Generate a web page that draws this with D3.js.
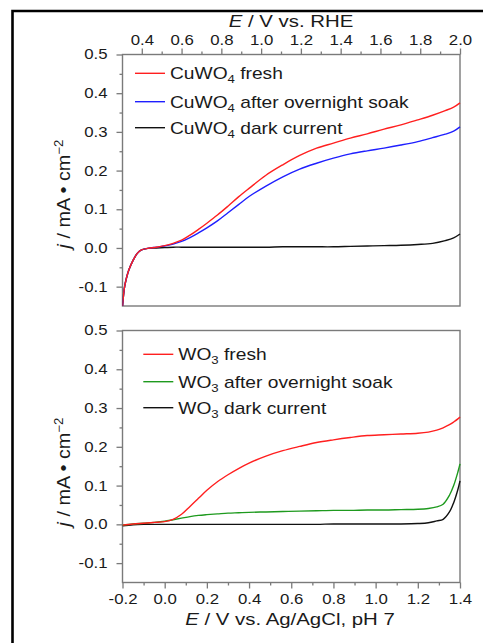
<!DOCTYPE html>
<html>
<head>
<meta charset="utf-8">
<script src="https://cdn.jsdelivr.net/npm/d3@7"></script>
<style>
  html, body { margin: 0; padding: 0; background: #fff; }
  svg { display: block; font-family: "Liberation Sans", Arial, sans-serif; }
</style>
</head>
<body>
<svg id="chart" width="483" height="643"></svg>
<script>
// Potential grids (V vs. Ag/AgCl, pH 7)
const potentialCu = [-0.2, -0.19, -0.18, -0.17, -0.15, -0.13, -0.11, -0.08, -0.04, 0.0, 0.04, 0.08, 0.12, 0.16, 0.2, 0.25, 0.3, 0.35, 0.4, 0.48, 0.56, 0.64, 0.72, 0.8, 0.88, 0.96, 1.04, 1.12, 1.2, 1.27, 1.33, 1.37, 1.4];
// Current densities (mA cm^-2), CuWO4 electrode
const cuFresh = [-0.15, -0.10, -0.075, -0.057, -0.032, -0.014, -0.005, -0.001, 0.002, 0.006, 0.012, 0.020, 0.033, 0.048, 0.064, 0.085, 0.108, 0.132, 0.154, 0.188, 0.215, 0.239, 0.258, 0.271, 0.284, 0.295, 0.307, 0.318, 0.331, 0.343, 0.355, 0.364, 0.375];
const cuSoak  = [-0.15, -0.10, -0.075, -0.057, -0.032, -0.014, -0.005, -0.001, 0.002, 0.005, 0.010, 0.017, 0.027, 0.039, 0.052, 0.070, 0.091, 0.112, 0.133, 0.160, 0.184, 0.204, 0.219, 0.232, 0.243, 0.251, 0.258, 0.266, 0.275, 0.285, 0.294, 0.302, 0.313];
const cuDark  = [-0.15, -0.10, -0.075, -0.057, -0.032, -0.014, -0.005, -0.001, 0.000, 0.001, 0.002, 0.002, 0.002, 0.002, 0.002, 0.002, 0.002, 0.002, 0.002, 0.002, 0.003, 0.003, 0.003, 0.003, 0.004, 0.005, 0.006, 0.007, 0.009, 0.012, 0.019, 0.026, 0.036];

const potentialW = [-0.2, -0.15, -0.1, -0.05, 0.0, 0.04, 0.08, 0.12, 0.16, 0.2, 0.25, 0.3, 0.35, 0.4, 0.48, 0.56, 0.64, 0.72, 0.8, 0.88, 0.96, 1.04, 1.12, 1.2, 1.25, 1.29, 1.32, 1.35, 1.37, 1.39, 1.4];
// Current densities (mA cm^-2), WO3 electrode
const wFresh = [-0.002, 0.001, 0.003, 0.005, 0.007, 0.013, 0.026, 0.046, 0.067, 0.088, 0.110, 0.128, 0.144, 0.158, 0.176, 0.190, 0.201, 0.211, 0.218, 0.224, 0.229, 0.231, 0.233, 0.235, 0.238, 0.243, 0.249, 0.257, 0.264, 0.272, 0.277];
const wSoak  = [-0.002, 0.001, 0.003, 0.005, 0.008, 0.012, 0.016, 0.020, 0.023, 0.025, 0.027, 0.029, 0.030, 0.031, 0.032, 0.033, 0.034, 0.035, 0.036, 0.036, 0.037, 0.037, 0.038, 0.039, 0.041, 0.045, 0.052, 0.075, 0.100, 0.135, 0.156];
const wDark  = [-0.004, -0.001, 0.000, 0.000, 0.000, 0.000, 0.000, 0.000, 0.000, 0.000, 0.000, 0.000, 0.000, 0.000, 0.000, 0.000, 0.000, 0.000, 0.001, 0.001, 0.001, 0.001, 0.001, 0.002, 0.004, 0.009, 0.013, 0.032, 0.056, 0.090, 0.112];

// Axis ticks
const xTicks = [-0.2, 0.0, 0.2, 0.4, 0.6, 0.8, 1.0, 1.2, 1.4];
const xMinor = [-0.1, 0.1, 0.3, 0.5, 0.7, 0.9, 1.1, 1.3];
const rheTicks = [0.4, 0.6, 0.8, 1.0, 1.2, 1.4, 1.6, 1.8, 2.0];
const rheMinor = [0.5, 0.7, 0.9, 1.1, 1.3, 1.5, 1.7, 1.9];
const yTicks = [-0.1, 0.0, 0.1, 0.2, 0.3, 0.4, 0.5];
const yMinor = [-0.05, 0.05, 0.15, 0.25, 0.35, 0.45];

const cuLegend = ["fresh", "after overnight soak", "dark current"];
const wLegend = ["fresh", "after overnight soak", "dark current"];

const svg = d3.select("#chart");
const SX = 1.2;              // horizontal widening of all lettering
const AX = "#7a7a7a";        // frame / tick colour
const TXT = "#1a1a1a";
const fmt = d => d.toFixed(1); // plain hyphen for negatives

// outer border
svg.append("path").attr("d", "M12.5,643 V11 H483")
  .attr("fill", "none").attr("stroke", "#000").attr("stroke-width", 2.6);

const left = 122.5, right = 460;
const x = d3.scaleLinear().domain([-0.2, 1.4]).range([left, right]);
const xRhe = d3.scaleLinear().domain([0.303, 2.0]).range([left, right]);

const panels = [
  { top: 54.5, bottom: 306, v: potentialCu,
    series: [ {vals: cuFresh, color: "#ff1f1f"}, {vals: cuSoak, color: "#1f1fff"}, {vals: cuDark, color: "#111"} ],
    legend: cuLegend, formula: ["CuWO", "4"], legX: 135, legY: [73.3, 101.7, 127.7], labelY: 194 },
  { top: 330.5, bottom: 582.5, v: potentialW,
    series: [ {vals: wFresh, color: "#ff1f1f"}, {vals: wSoak, color: "#1e9a1e"}, {vals: wDark, color: "#111"} ],
    legend: wLegend, formula: ["WO", "3"], legX: 143.3, legY: [354.3, 381.7, 407.7], labelY: 472 }
];

function styleAxis(g) {
  g.select(".domain").remove();
  g.selectAll("line").attr("stroke", AX).attr("stroke-width", 1.3);
  g.selectAll("text").attr("fill", TXT).attr("font-size", 14)
    .attr("font-family", '"Liberation Sans", Arial, sans-serif');
}
function widenTicks(g) {
  g.selectAll("text").each(function () {
    const t = d3.select(this);
    const xv = +t.attr("x") || 0;
    t.attr("x", xv / SX).attr("transform", `scale(${SX},1)`);
  });
}

panels.forEach((p, i) => {
  const y = d3.scaleLinear().domain([-0.15, 0.5]).range([p.bottom, p.top]);

  // left axis
  const gl = svg.append("g").attr("transform", `translate(${left},0)`)
    .call(d3.axisLeft(y).tickValues(yTicks).tickFormat(fmt).tickSize(6).tickSizeOuter(0).tickPadding(9));
  styleAxis(gl); widenTicks(gl);
  const glm = svg.append("g").attr("transform", `translate(${left},0)`)
    .call(d3.axisLeft(y).tickValues(yMinor).tickFormat("").tickSize(3).tickSizeOuter(0));
  styleAxis(glm);

  if (i === 0) {
    const gt = svg.append("g").attr("transform", `translate(0,${p.top})`)
      .call(d3.axisTop(xRhe).tickValues(rheTicks).tickFormat(fmt).tickSize(6).tickSizeOuter(0).tickPadding(4));
    styleAxis(gt); widenTicks(gt);
    const gtm = svg.append("g").attr("transform", `translate(0,${p.top})`)
      .call(d3.axisTop(xRhe).tickValues(rheMinor).tickFormat("").tickSize(3).tickSizeOuter(0));
    styleAxis(gtm);
  } else {
    const gb = svg.append("g").attr("transform", `translate(0,${p.bottom})`)
      .call(d3.axisBottom(x).tickValues(xTicks).tickFormat(fmt).tickSize(6).tickSizeOuter(0).tickPadding(6));
    styleAxis(gb); widenTicks(gb);
    const gbm = svg.append("g").attr("transform", `translate(0,${p.bottom})`)
      .call(d3.axisBottom(x).tickValues(xMinor).tickFormat("").tickSize(3).tickSizeOuter(0));
    styleAxis(gbm);
  }

  // plot frame
  svg.append("rect").attr("x", left).attr("y", p.top)
    .attr("width", right - left).attr("height", p.bottom - p.top)
    .attr("fill", "none").attr("stroke", AX).attr("stroke-width", 1.4);

  // curves
  const clipId = "clip" + i;
  svg.append("clipPath").attr("id", clipId).append("rect")
    .attr("x", left).attr("y", p.top - 1).attr("width", right - left + 1).attr("height", p.bottom - p.top + 1);
  const line = d3.line().x(d => x(d[0])).y(d => y(d[1])).curve(d3.curveCatmullRom.alpha(0.5));
  // dark current first, then soak, then fresh on top
  [2, 1, 0].forEach(k => {
    const s = p.series[k];
    svg.append("path").datum(p.v.map((v, j) => [v, s.vals[j]]))
      .attr("clip-path", `url(#${clipId})`)
      .attr("d", line).attr("fill", "none").attr("stroke", s.color).attr("stroke-width", 1.4);
  });

  // legend
  p.legend.forEach((label, k) => {
    const ly = p.legY[k];
    svg.append("line").attr("x1", p.legX).attr("x2", p.legX + 30).attr("y1", ly).attr("y2", ly)
      .attr("stroke", p.series[k].color).attr("stroke-width", 1.4);
    const t = svg.append("text").attr("transform", `translate(${p.legX + 35},${ly + 6}) scale(${SX},1)`)
      .attr("font-size", 16).attr("fill", TXT);
    t.append("tspan").text(p.formula[0]);
    t.append("tspan").attr("font-size", 11).attr("dy", 4).text(p.formula[1]);
    t.append("tspan").attr("dy", -4).text(" " + label);
  });

  // y-axis title
  const yl = svg.append("text")
    .attr("transform", `translate(70,${p.labelY}) rotate(-90) scale(1.1,1)`)
    .attr("text-anchor", "middle").attr("font-size", 18).attr("fill", TXT);
  yl.append("tspan").attr("font-style", "italic").text("j");
  yl.append("tspan").text(" / mA \u2022 cm");
  yl.append("tspan").attr("font-size", 12).attr("dy", -7).text("\u22122");
});

// x-axis titles
function title(xc, yb, rest) {
  const t = svg.append("text").attr("transform", `translate(${xc},${yb}) scale(${SX},1)`)
    .attr("text-anchor", "middle").attr("font-size", 17).attr("fill", TXT);
  t.append("tspan").attr("font-style", "italic").text("E");
  t.append("tspan").text(rest);
}
title(291, 26.5, " / V vs. RHE");
title(290, 624.5, " / V vs. Ag/AgCl, pH 7");
</script>
</body>
</html>
